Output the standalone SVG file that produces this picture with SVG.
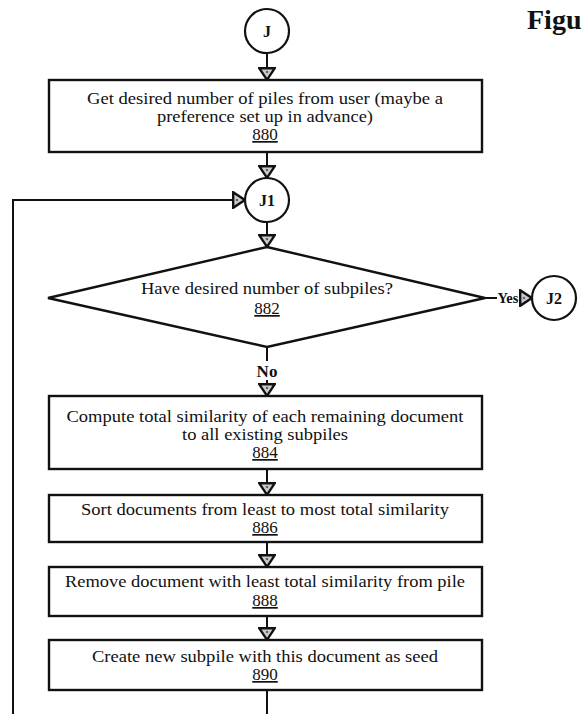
<svg xmlns="http://www.w3.org/2000/svg" width="582" height="714" viewBox="0 0 582 714">
<style>
.box{fill:#fff;stroke:#111;stroke-width:2.4}
.circ{fill:#fff;stroke:#111;stroke-width:2.2}
.ln{fill:none;stroke:#111;stroke-width:2}
text{font-family:"Liberation Serif","Times New Roman",serif;font-size:16px;fill:#111;text-anchor:middle}
.lbl{font-weight:bold;font-size:16px}
.num{text-decoration:underline;font-size:17px}
.fig{font-weight:bold;font-size:28px;text-anchor:start}
</style>
<defs>
<marker id="ah" markerUnits="userSpaceOnUse" viewBox="0 0 14 18" markerWidth="14" markerHeight="18" refX="13" refY="9" orient="auto">
<path d="M1.2,1.2 L12.8,9 L1.2,16.8 Z" fill="#ccc" stroke="#111" stroke-width="2.4" stroke-linejoin="miter"/>
<circle cx="5" cy="9" r="1.3" fill="#666"/>
</marker>
</defs>
<rect width="582" height="714" fill="#fff"/>
<text class="fig" x="527" y="29">Figu</text>
<g id="connectors">
<path class="ln" d="M267,53 V80" marker-end="url(#ah)"/>
<path class="ln" d="M267,152 V178" marker-end="url(#ah)"/>
<path class="ln" d="M267,222 V247" marker-end="url(#ah)"/>
<path class="ln" d="M485,298 H497"/>
<path class="ln" d="M522,298 H532" marker-end="url(#ah)"/>
<path class="ln" d="M267,347 V361"/>
<path class="ln" d="M267,380 V396" marker-end="url(#ah)"/>
<path class="ln" d="M267,469 V495" marker-end="url(#ah)"/>
<path class="ln" d="M267,542 V567" marker-end="url(#ah)"/>
<path class="ln" d="M267,616 V640" marker-end="url(#ah)"/>
<path class="ln" d="M267,690 V717 H13 V200 H245" marker-end="url(#ah)"/>
<text class="lbl" x="497.5" y="303" style="font-size:14.5px;text-anchor:start">Yes</text>
<text class="lbl" x="267" y="377" style="font-size:17px">No</text>
</g>
<g id="J">
<circle class="circ" cx="267" cy="31" r="22"/>
<text class="lbl" x="267" y="37">J</text>
</g>
<g id="n880">
<rect class="box" x="49" y="80" width="433" height="72"/>
<text x="265" y="104" textLength="356" lengthAdjust="spacingAndGlyphs">Get desired number of piles from user (maybe a</text>
<text x="265" y="122" textLength="216" lengthAdjust="spacingAndGlyphs">preference set up in advance)</text>
<text class="num" x="265" y="140">880</text>
</g>
<g id="J1">
<circle class="circ" cx="267" cy="200" r="22"/>
<text class="lbl" x="267" y="206">J1</text>
</g>
<g id="n882">
<polygon class="box" points="267,247 485,298 267,347 48,298"/>
<text x="267" y="294" textLength="252" lengthAdjust="spacingAndGlyphs">Have desired number of subpiles?</text>
<text class="num" x="267" y="314">882</text>
</g>
<g id="J2">
<circle class="circ" cx="554" cy="298" r="22"/>
<text class="lbl" x="554" y="304">J2</text>
</g>
<g id="n884">
<rect class="box" x="49" y="396" width="433" height="73"/>
<text x="265" y="422" textLength="397" lengthAdjust="spacingAndGlyphs">Compute total similarity of each remaining document</text>
<text x="265" y="440" textLength="166" lengthAdjust="spacingAndGlyphs">to all existing subpiles</text>
<text class="num" x="265" y="458">884</text>
</g>
<g id="n886">
<rect class="box" x="49" y="495" width="433" height="47"/>
<text x="265" y="515" textLength="368" lengthAdjust="spacingAndGlyphs">Sort documents from least to most total similarity</text>
<text class="num" x="265" y="533">886</text>
</g>
<g id="n888">
<rect class="box" x="49" y="567" width="433" height="49"/>
<text x="265" y="587" textLength="400" lengthAdjust="spacingAndGlyphs">Remove document with least total similarity from pile</text>
<text class="num" x="265" y="606">888</text>
</g>
<g id="n890">
<rect class="box" x="49" y="640" width="433" height="50"/>
<text x="265" y="662" textLength="346" lengthAdjust="spacingAndGlyphs">Create new subpile with this document as seed</text>
<text class="num" x="265" y="680">890</text>
</g>
</svg>
